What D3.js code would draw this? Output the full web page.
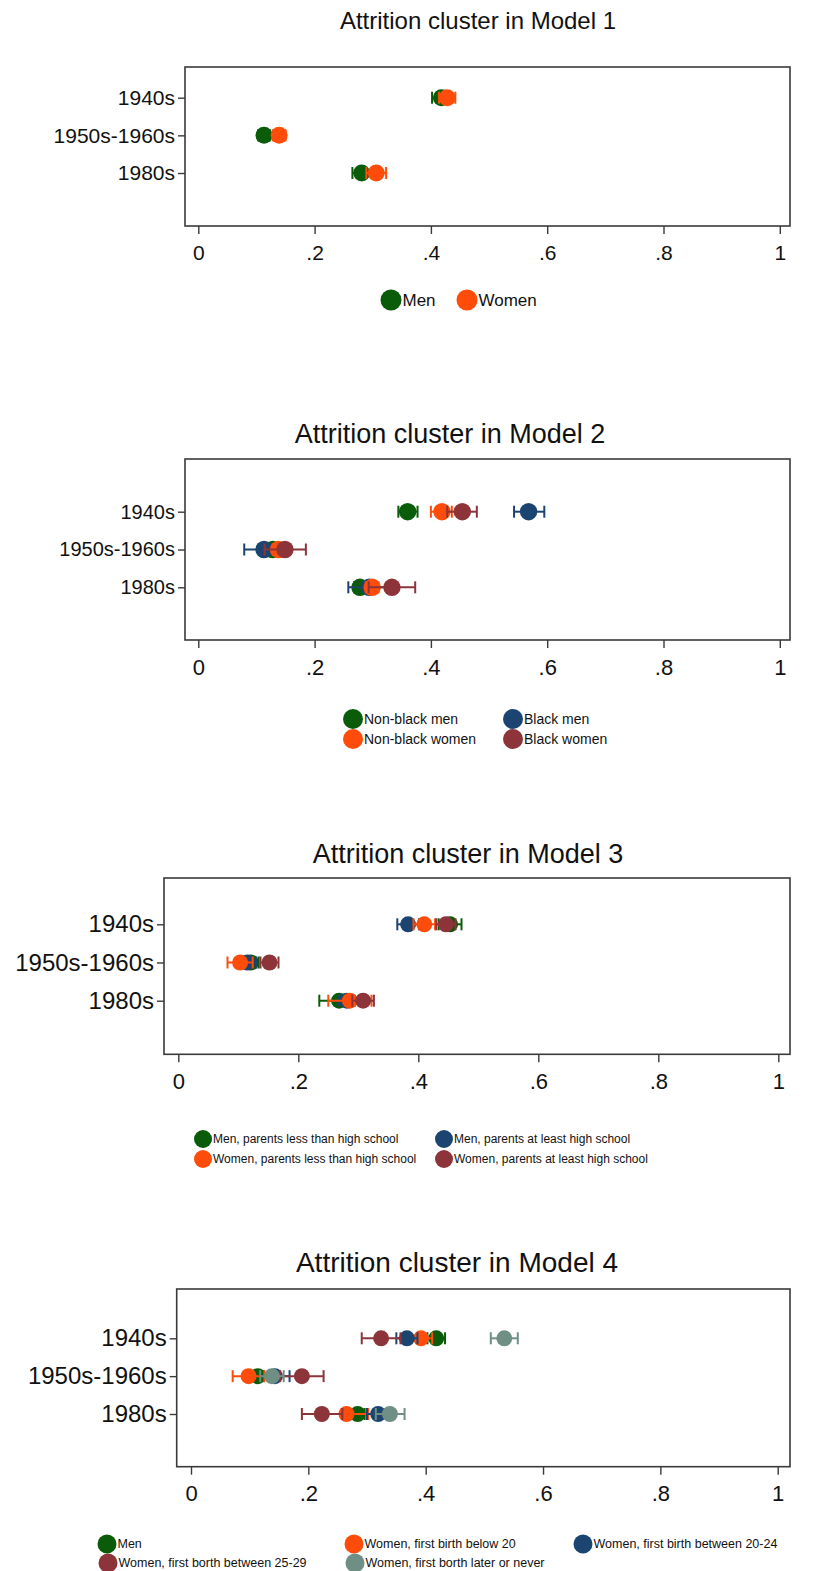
<!DOCTYPE html>
<html>
<head>
<meta charset="utf-8">
<script src="https://cdn.jsdelivr.net/npm/d3@7"></script>
<style>
  html, body { margin: 0; padding: 0; background: #fff; }
  svg text { font-family: "Liberation Sans", Arial, sans-serif; fill: #111; }
</style>
</head>
<body>
<svg id="chart" width="815" height="1571"></svg>
<script>
// Birth cohorts on the vertical axis and value ticks on the horizontal axis
const cohorts = ["1940s", "1950s-1960s", "1980s"];
const xTickValues = [0, 0.2, 0.4, 0.6, 0.8, 1];
const xTickLabels = ["0", ".2", ".4", ".6", ".8", "1"];

// Model 1: estimates and confidence bounds, one row per group, one column per cohort
const m1Groups = ["Men", "Women"];
const m1Est = [[0.418, 0.113, 0.281], [0.428, 0.139, 0.306]];
const m1Lo  = [[0.402, 0.103, 0.265], [0.414, 0.128, 0.289]];
const m1Hi  = [[0.434, 0.123, 0.297], [0.442, 0.150, 0.323]];

// Model 2
const m2Groups = ["Non-black men", "Black men", "Non-black women", "Black women"];
const m2Est = [[0.360, 0.128, 0.278], [0.568, 0.113, 0.294], [0.419, 0.138, 0.299], [0.454, 0.149, 0.333]];
const m2Lo  = [[0.344, 0.118, 0.268], [0.543, 0.079, 0.258], [0.400, 0.128, 0.288], [0.428, 0.114, 0.293]];
const m2Hi  = [[0.377, 0.138, 0.288], [0.595, 0.148, 0.326], [0.436, 0.148, 0.310], [0.479, 0.185, 0.373]];

// Model 3
const m3Groups = ["Men, parents less than high school", "Men, parents at least high school",
                  "Women, parents less than high school", "Women, parents at least high school"];
const m3Est = [[0.453, 0.121, 0.268], [0.383, 0.115, 0.281], [0.410, 0.103, 0.286], [0.446, 0.152, 0.308]];
const m3Lo  = [[0.434, 0.108, 0.235], [0.365, 0.100, 0.268], [0.392, 0.082, 0.250], [0.430, 0.137, 0.290]];
const m3Hi  = [[0.472, 0.134, 0.301], [0.401, 0.130, 0.294], [0.428, 0.124, 0.322], [0.462, 0.167, 0.326]];

// Model 4
const m4Groups = ["Men", "Women, first birth below 20", "Women, first birth between 20-24",
                  "Women, first borth between 25-29", "Women, first borth later or never"];
const m4Est = [[0.418, 0.114, 0.284], [0.392, 0.098, 0.265], [0.368, 0.143, 0.319], [0.324, 0.189, 0.223], [0.534, 0.138, 0.339]];
const m4Lo  = [[0.403, 0.104, 0.272], [0.373, 0.071, 0.229], [0.350, 0.118, 0.300], [0.291, 0.152, 0.189], [0.511, 0.118, 0.315]];
const m4Hi  = [[0.433, 0.124, 0.296], [0.411, 0.125, 0.302], [0.386, 0.168, 0.338], [0.357, 0.226, 0.258], [0.557, 0.158, 0.364]];

// Marker palette
const GREEN = "#0a5c0a", ORANGE = "#ff4c0a", NAVY = "#1b4471", MAROON = "#8c343a", TEAL = "#6f8f84";

const svg = d3.select("#chart");

function drawPanel(cfg) {
  const g = svg.append("g");
  const x = d3.scaleLinear().domain([0, 1]).range([cfg.x0, cfg.x1]);
  const y = d3.scalePoint().domain(cohorts).range([cfg.yTop, cfg.yBot]);

  // title
  g.append("text").attr("x", cfg.titleX).attr("y", cfg.titleY)
    .attr("text-anchor", "middle").style("font-size", cfg.titleSize + "px")
    .text(cfg.title);

  // plot frame
  g.append("rect")
    .attr("x", cfg.fx0).attr("y", cfg.fy0)
    .attr("width", cfg.fx1 - cfg.fx0).attr("height", cfg.fy1 - cfg.fy0)
    .attr("fill", "none").attr("stroke", "#3a3a3a").attr("stroke-width", 1.6);

  // x axis
  const xa = g.append("g").attr("transform", `translate(0,${cfg.fy1})`)
    .call(d3.axisBottom(x).tickValues(xTickValues)
      .tickFormat((d, i) => xTickLabels[i]).tickSize(8).tickPadding(11));
  xa.select(".domain").remove();
  xa.selectAll(".tick line").attr("stroke", "#3a3a3a").attr("stroke-width", 1.4);
  xa.selectAll(".tick text").style("font-size", cfg.xSize + "px")
    .attr("font-family", null).attr("fill", "#111");

  // y axis
  const ya = g.append("g").attr("transform", `translate(${cfg.fx0},0)`)
    .call(d3.axisLeft(y).tickSize(7).tickPadding(3));
  ya.select(".domain").remove();
  ya.selectAll(".tick line").attr("stroke", "#3a3a3a").attr("stroke-width", 1.4);
  ya.selectAll(".tick text").style("font-size", cfg.ySize + "px")
    .attr("font-family", null).attr("fill", "#111");

  // confidence intervals and point estimates per group
  cfg.groups.forEach((name, s) => {
    const col = cfg.colors[s];
    const rows = cohorts.map((c, k) => ({ c, est: cfg.est[s][k], lo: cfg.lo[s][k], hi: cfg.hi[s][k] }));
    const sg = g.append("g");
    sg.selectAll("line.ci").data(rows).join("line")
      .attr("x1", d => x(d.lo)).attr("x2", d => x(d.hi))
      .attr("y1", d => y(d.c)).attr("y2", d => y(d.c))
      .attr("stroke", col).attr("stroke-width", 2);
    ["lo", "hi"].forEach(key => {
      sg.selectAll("line.cap-" + key).data(rows).join("line")
        .attr("x1", d => x(d[key])).attr("x2", d => x(d[key]))
        .attr("y1", d => y(d.c) - 6).attr("y2", d => y(d.c) + 6)
        .attr("stroke", col).attr("stroke-width", 2);
    });
    sg.selectAll("circle").data(rows).join("circle")
      .attr("cx", d => x(d.est)).attr("cy", d => y(d.c))
      .attr("r", cfg.r).attr("fill", col);
  });

  // legend
  const lg = g.append("g");
  cfg.groups.forEach((name, s) => {
    const pos = cfg.legendPos[s];
    lg.append("circle").attr("cx", pos[0]).attr("cy", pos[1])
      .attr("r", cfg.legendR).attr("fill", cfg.colors[s]);
    lg.append("text").attr("x", pos[0] + cfg.legendR + 1).attr("y", pos[1])
      .attr("dy", "0.35em").style("font-size", cfg.legendSize + "px").text(name);
  });
}

drawPanel({
  title: "Attrition cluster in Model 1", titleX: 478, titleY: 29, titleSize: 24,
  fx0: 185, fx1: 790, fy0: 67, fy1: 226, x0: 198.3, x1: 779.8,
  yTop: 97.7, yBot: 173, xSize: 21, ySize: 21, r: 8.5,
  groups: m1Groups, est: m1Est, lo: m1Lo, hi: m1Hi, colors: [GREEN, ORANGE],
  legendPos: [[391, 300], [467, 300]], legendR: 10.5, legendSize: 17
});

drawPanel({
  title: "Attrition cluster in Model 2", titleX: 450, titleY: 443, titleSize: 27,
  fx0: 185, fx1: 790, fy0: 459, fy1: 640, x0: 198.3, x1: 779.8,
  yTop: 511.7, yBot: 587.3, xSize: 22, ySize: 20, r: 8.7,
  groups: m2Groups, est: m2Est, lo: m2Lo, hi: m2Hi, colors: [GREEN, NAVY, ORANGE, MAROON],
  legendPos: [[353, 719], [513, 719], [353, 739], [513, 739]], legendR: 10, legendSize: 14
});

drawPanel({
  title: "Attrition cluster in Model 3", titleX: 468, titleY: 863, titleSize: 27,
  fx0: 164, fx1: 790, fy0: 878, fy1: 1054.3, x0: 178.3, x1: 778.3,
  yTop: 924.3, yBot: 1000.7, xSize: 22, ySize: 24, r: 8,
  groups: m3Groups, est: m3Est, lo: m3Lo, hi: m3Hi, colors: [GREEN, NAVY, ORANGE, MAROON],
  legendPos: [[203, 1139], [444, 1139], [203, 1159], [444, 1159]], legendR: 9, legendSize: 12
});

drawPanel({
  title: "Attrition cluster in Model 4", titleX: 457, titleY: 1272, titleSize: 28,
  fx0: 176.7, fx1: 790, fy0: 1289, fy1: 1466.7, x0: 191, x1: 777.7,
  yTop: 1338.3, yBot: 1414, xSize: 22, ySize: 24, r: 8,
  groups: m4Groups, est: m4Est, lo: m4Lo, hi: m4Hi, colors: [GREEN, ORANGE, NAVY, MAROON, TEAL],
  legendPos: [[107, 1544], [354, 1544], [583, 1544], [108, 1563], [355, 1563]], legendR: 9.5, legendSize: 12.5
});
</script>
</body>
</html>
